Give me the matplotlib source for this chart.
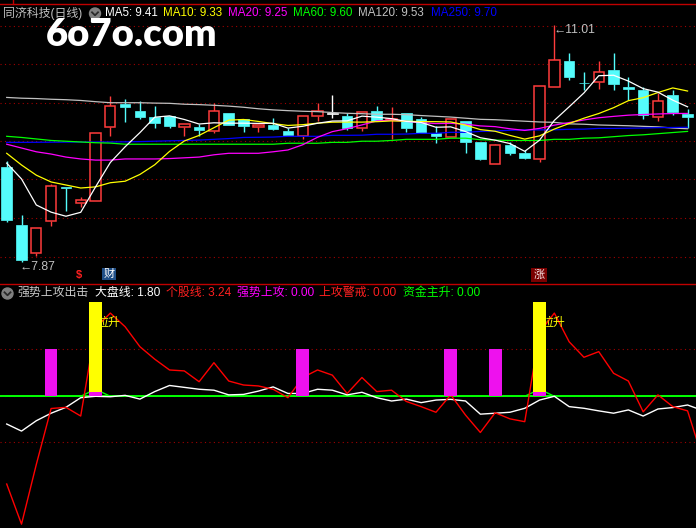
import matplotlib
matplotlib.use("Agg")
import matplotlib.pyplot as plt
from matplotlib.lines import Line2D
from matplotlib.patches import Circle
from matplotlib.transforms import IdentityTransform
import numpy as np

W, H = 696, 528

# ---- 日线 K 线 (47 根) ----
opens = [9.13, 8.36, 7.99, 8.41, 8.86, 8.65, 8.68, 9.66, 9.96, 9.87,
         9.79, 9.805, 9.66, 9.66, 9.605, 9.845, 9.765, 9.66, 9.685, 9.605,
         9.54, 9.805, 9.83, 9.805, 9.645, 9.87, 9.755, 9.845, 9.765, 9.58,
         9.525, 9.74, 9.46, 9.17, 9.42, 9.315, 9.235, 10.19, 10.53, 10.245,
         10.255, 10.41, 10.19, 10.15, 9.79, 10.08, 9.83]
highs = [9.21, 8.49, 8.32, 8.90, 8.86, 8.73, 9.58, 10.07, 10.03, 10.00,
         9.94, 9.805, 9.70, 9.70, 9.98, 9.85, 9.765, 9.685, 9.78, 9.645,
         9.805, 9.98, 10.08, 9.845, 9.86, 9.94, 9.92, 9.845, 9.79, 9.67,
         9.765, 9.74, 9.46, 9.43, 9.46, 9.355, 10.20, 11.01, 10.64, 10.39,
         10.53, 10.64, 10.32, 10.19, 10.11, 10.15, 9.90]
lows = [8.40, 7.87, 7.95, 8.35, 8.545, 8.60, 8.68, 9.54, 9.725, 9.765,
        9.645, 9.645, 9.54, 9.54, 9.58, 9.68, 9.59, 9.59, 9.62, 9.55,
        9.50, 9.74, 9.78, 9.62, 9.605, 9.74, 9.50, 9.59, 9.58, 9.45,
        9.525, 9.31, 9.22, 9.17, 9.29, 9.235, 9.195, 10.19, 10.28, 10.15,
        10.16, 10.15, 10.02, 9.765, 9.74, 9.82, 9.645]
closes = [8.43, 7.90, 8.32, 8.88, 8.85, 8.69, 9.58, 9.94, 9.92, 9.79,
          9.71, 9.67, 9.70, 9.62, 9.87, 9.685, 9.67, 9.685, 9.63, 9.55,
          9.805, 9.87, 9.83, 9.645, 9.86, 9.74, 9.77, 9.645, 9.58, 9.54,
          9.765, 9.46, 9.235, 9.42, 9.315, 9.25, 10.20, 10.546, 10.32, 10.235,
          10.39, 10.23, 10.16, 9.82, 10.00, 9.86, 9.79]

ma5 = [9.18, 8.97, 8.625, 8.53, 8.476, 8.528, 8.864, 9.188, 9.396, 9.584,
       9.788, 9.806, 9.758, 9.698, 9.714, 9.709, 9.709, 9.706, 9.708, 9.644,
       9.668, 9.708, 9.737, 9.74, 9.802, 9.789, 9.769, 9.732, 9.719, 9.655,
       9.66, 9.598, 9.516, 9.484, 9.439, 9.336, 9.484, 9.746, 9.926, 10.11,
       10.338, 10.344, 10.267, 10.167, 10.12, 10.014, 9.926]
ma10 = [9.31, 9.155, 9.02, 8.93, 8.89, 8.85, 8.865, 8.92, 8.94, 9.03,
        9.158, 9.335, 9.473, 9.547, 9.649, 9.749, 9.758, 9.732, 9.703, 9.679,
        9.689, 9.709, 9.722, 9.724, 9.723, 9.729, 9.739, 9.735, 9.730, 9.729,
        9.725, 9.684, 9.624, 9.602, 9.547, 9.498, 9.541, 9.631, 9.705, 9.775,
        9.837, 9.914, 10.007, 10.047, 10.115, 10.176, 10.135]
ma20 = [9.43, 9.38, 9.33, 9.30, 9.26, 9.235, 9.22, 9.22, 9.235, 9.235,
        9.235, 9.24, 9.25, 9.26, 9.29, 9.31, 9.31, 9.31, 9.33, 9.354,
        9.423, 9.522, 9.597, 9.636, 9.686, 9.739, 9.748, 9.733, 9.716, 9.704,
        9.707, 9.696, 9.673, 9.663, 9.635, 9.613, 9.640, 9.683, 9.717, 9.752,
        9.781, 9.799, 9.815, 9.824, 9.831, 9.837, 9.838]
ma60 = [9.535, 9.52, 9.50, 9.48, 9.47, 9.46, 9.45, 9.445, 9.43, 9.43,
        9.43, 9.43, 9.43, 9.43, 9.43, 9.43, 9.43, 9.43, 9.43, 9.443,
        9.443, 9.443, 9.455, 9.455, 9.47, 9.47, 9.48, 9.495, 9.495, 9.495,
        9.51, 9.51, 9.49, 9.485, 9.48, 9.48, 9.48, 9.495, 9.495, 9.51,
        9.515, 9.53, 9.545, 9.555, 9.57, 9.585, 9.60]
ma120 = [10.05, 10.04, 10.035, 10.026, 10.02, 10.01, 9.994, 9.98, 9.98, 9.98,
         9.975, 9.972, 9.96, 9.955, 9.946, 9.935, 9.92, 9.90, 9.885, 9.875,
         9.867, 9.862, 9.85, 9.84, 9.835, 9.827, 9.827, 9.822, 9.81, 9.80,
         9.79, 9.775, 9.76, 9.755, 9.745, 9.735, 9.725, 9.72, 9.70, 9.695,
         9.685, 9.68, 9.675, 9.667, 9.66, 9.645, 9.635]
ma250 = [9.455, 9.455, 9.456, 9.457, 9.458, 9.459, 9.46, 9.46, 9.462, 9.465,
         9.47, 9.475, 9.48, 9.485, 9.495, 9.505, 9.52, 9.522, 9.525, 9.535,
         9.535, 9.535, 9.548, 9.548, 9.55, 9.562, 9.562, 9.565, 9.575, 9.575,
         9.588, 9.588, 9.60, 9.605, 9.615, 9.62, 9.62, 9.622, 9.628, 9.63,
         9.64, 9.64, 9.642, 9.645, 9.65, 9.652, 9.655]

ma_names = ["MA5", "MA10", "MA20", "MA60", "MA120", "MA250"]
ma_header = [9.41, 9.33, 9.25, 9.60, 9.53, 9.70]
ma_colors = ["#FFFFFF", "#FFFF00", "#FF00FF", "#00FF00", "#C0C0C0", "#0000FF"]

# ---- 副图 强势上攻出击 (最后一点在画面右侧之外) ----
dapan = [-0.59, -0.74, -0.52, -0.36, -0.235, -0.03, 0.0, -0.01, 0.02, -0.06,
         0.10, 0.23, 0.19, 0.15, 0.13, 0.03, 0.04, 0.11, 0.20, 0.06,
         0.06, 0.15, 0.13, 0.03, 0.085, -0.03, -0.10, -0.06, -0.135, -0.08,
         -0.065, -0.10, -0.38, -0.36, -0.34, -0.255, -0.08, 0.0, -0.22, -0.255,
         -0.31, -0.36, -0.29, -0.42, -0.27, -0.24, -0.185, -0.30]
gegu = [-1.866, -2.72, -1.45, -0.26, -0.235, -0.42, 1.45, 1.77, 1.48, 1.055,
        0.79, 0.56, 0.54, 0.31, 0.715, 0.325, 0.24, 0.22, 0.15, -0.03,
        0.40, 0.56, 0.45, 0.06, 0.40, 0.10, 0.13, -0.11, -0.22, -0.34,
        0.03, -0.40, -0.77, -0.35, -0.48, -0.54, 1.36, 1.77, 1.16, 0.83,
        0.95, 0.49, 0.325, -0.33, 0.03, -0.22, -0.31, -1.30]
zijin = [0, 0, 0, 0, 0, 0, 0.15, 0, 0, 0,
         0, 0, 0, 0, 0, 0, 0, 0, 0, 0,
         0, 0, 0, 0, 0, 0, 0, 0, 0, 0,
         0, 0, 0, 0, 0, 0, 0.15, 0, 0, 0,
         0, 0, 0, 0, 0, 0, 0, 0]
qiangshi_idx = [3, 6, 20, 30, 33, 36]
qiangshi_val = [1, 0.1, 1, 1, 1, 0.1]
lasheng_idx = [6, 36]
lasheng_val = [2, 2]

sub_names = ["大盘线", "个股线", "强势上攻", "上攻警戒", "资金主升"]
sub_values = [1.80, 3.24, 0.00, 0.00, 0.00]
sub_colors = ["#FFFFFF", "#FF2020", "#FF00FF", "#FF2020", "#00FF00"]

RED = "#FF3C3C"
CYAN = "#54FCFC"
GRID = "#A00000"
FONT = ["Liberation Sans", "Noto Sans CJK SC", "DejaVu Sans"]


def fx(x):
    return x / W


def fy(y):
    return 1 - y / H


fig = plt.figure(figsize=(W / 100, H / 100), dpi=100, facecolor="black")

ax = fig.add_axes([0, fy(283), 1, (283 - 20) / H])
ax2 = fig.add_axes([0, 0, 1, (528 - 284) / H])
for a in (ax, ax2):
    a.set_axis_off()
    a.set_xlim(-0.453, 46.57)
ax.set_ylim(7.5915, 11.076)
ax2.set_ylim(-2.802, 2.389)

# 虚线网格
for y in [26, 64, 103, 141, 179, 218, 257, 349.3, 396.3, 442.3]:
    fig.add_artist(Line2D([0, 1], [fy(y), fy(y)], color=GRID, lw=0.8,
                          ls=(0, (1, 3)), transform=fig.transFigure, zorder=0))
for y in [3.5, 283.5]:
    fig.add_artist(Line2D([0, 1], [fy(y), fy(y)], color="#C00000", lw=1.0,
                          transform=fig.transFigure))
fig.add_artist(Line2D([fx(13), fx(13)], [fy(0), fy(3.5)], color="#C00000", lw=1.0,
                      transform=fig.transFigure))

# K 线
o = np.array(opens)
hi = np.array(highs)
lo = np.array(lows)
c = np.array(closes)
x = np.arange(len(o))
top = np.maximum(o, c)
bot = np.minimum(o, c)
body = np.maximum(top - bot, 0.012)
col = np.where(c > o, RED, np.where(c < o, CYAN, "#FFFFFF"))

ax.vlines(x, top, hi, colors=col, lw=1.0, zorder=3)
ax.vlines(x, lo, bot, colors=col, lw=1.0, zorder=3)
up = c > o
ax.bar(x[up], body[up], bottom=bot[up], width=0.70, facecolor="black",
       edgecolor=RED, linewidth=1.1, zorder=4)
dn = ~up
ax.bar(x[dn], body[dn], bottom=bot[dn], width=0.72, color=col[dn],
       edgecolor=col[dn], linewidth=0.5, zorder=4)

for vals, colr in zip([ma120, ma250, ma60, ma20, ma10, ma5],
                      ["#C0C0C0", "#0000FF", "#00FF00", "#FF00FF", "#FFFF00", "#FFFFFF"]):
    ax.plot(x, vals, color=colr, lw=0.9, zorder=5)

# 副图
x2 = np.arange(len(gegu))
ax2.axhline(0, color="#00FF00", lw=1.4, zorder=1)
ax2.plot(x2, zijin, color="#00FF00", lw=1.0, zorder=2)
ax2.plot(x2, dapan, color="#FFFFFF", lw=1.0, zorder=2)
ax2.plot(x2, gegu, color="#FF0000", lw=1.0, zorder=2)
for i in lasheng_idx:
    ax2.text(i + 0.1, 1.56, "拉升", color="#FFFF00", fontsize=8.6,
             family=FONT, ha="left", va="center", zorder=3)
ax2.bar(lasheng_idx, lasheng_val, width=0.86, color="#FFFF00", zorder=4)
ax2.bar(qiangshi_idx, qiangshi_val, width=0.86, color="#EE11EE", zorder=5)

# 标题栏
fig.text(fx(3), fy(13), "同济科技(日线)", color="#C0C0C0", fontsize=8.6,
         family=FONT, va="center")
ma_x = [105, 163, 228, 293, 358, 431]
for xp, name, v, colr in zip(ma_x, ma_names, ma_header, ma_colors):
    fig.text(fx(xp), fy(13), f"{name}: {v:.2f}", color=colr, fontsize=8.4,
             family=FONT, va="center")

fig.text(fx(17), fy(293), "强势上攻出击", color="#C8C8C8", fontsize=8.6,
         family=FONT, va="center")
sub_x = [95, 166, 237, 319, 403]
for xp, name, v, colr in zip(sub_x, sub_names, sub_values, sub_colors):
    fig.text(fx(xp), fy(293), f"{name}: {v:.2f}", color=colr, fontsize=8.6,
             family=FONT, va="center")

for cx, cy in [(95, 13.5), (7.5, 293.5)]:
    fig.add_artist(Circle((cx, H - cy), 5.5, color="#808080",
                          transform=IdentityTransform()))
    fig.add_artist(Line2D([cx - 3, cx, cx + 3], [H - cy + 1.2, H - cy - 1.8, H - cy + 1.2],
                          color="#2A2A2A", lw=1.3, transform=IdentityTransform()))

# 最高/最低价标注
fig.text(fx(20), fy(267), "←7.87", color="#C0C0C0", fontsize=8.8,
         family=FONT, va="center")
fig.text(fx(553), fy(30), "←11.01", color="#C0C0C0", fontsize=8.8,
         family=FONT, va="center")

# 信息地雷等标记
fig.text(fx(79), fy(275), "$", color="#FF2020", fontsize=8, fontweight="bold",
         family=FONT, ha="center", va="center")
fig.text(fx(109), fy(274), "财", color="#FFFFFF", fontsize=8, family=FONT,
         ha="center", va="center",
         bbox=dict(boxstyle="square,pad=0.12", fc="#1F4E86", ec="none"))
fig.text(fx(539), fy(275), "涨", color="#F4E0E0", fontsize=8, family=FONT,
         ha="center", va="center",
         bbox=dict(boxstyle="square,pad=0.18", fc="#7A0000", ec="none"))

# 水印
fig.text(fx(132), fy(34.5), "6o7o.com", color="#FFFFFF", fontsize=27.5,
         fontweight="heavy", family=["Lato", "DejaVu Sans"], ha="center", va="center")

fig.savefig("out.png", dpi=100, facecolor="black")
